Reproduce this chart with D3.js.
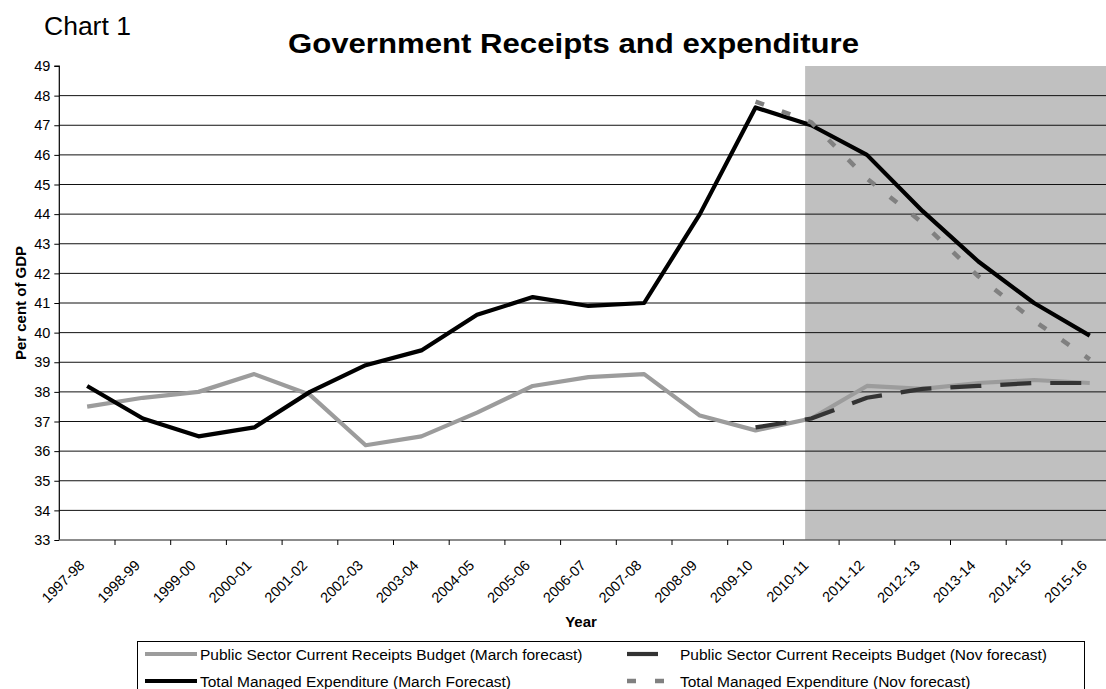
<!DOCTYPE html>
<html>
<head>
<meta charset="utf-8">
<script src="https://cdn.jsdelivr.net/npm/d3@7"></script>
<style>
  html, body { margin: 0; padding: 0; background: #ffffff; }
  svg { display: block; font-family: Arial, "Liberation Sans", sans-serif; }
</style>
</head>
<body>
<svg id="chart" width="1106" height="689"></svg>
<script>
// ---- data ----
const categories = ["1997-98","1998-99","1999-00","2000-01","2001-02","2002-03","2003-04","2004-05","2005-06","2006-07","2007-08","2008-09","2009-10","2010-11","2011-12","2012-13","2013-14","2014-15","2015-16"];
const receiptsMarch = [37.5,37.8,38.0,38.6,37.9,36.2,36.5,37.3,38.2,38.5,38.6,37.2,36.7,37.1,38.2,38.1,38.3,38.4,38.3];
const receiptsNov   = [null,null,null,null,null,null,null,null,null,null,null,null,36.8,37.1,37.8,38.1,38.2,38.3,38.3];
const tmeMarch      = [38.2,37.1,36.5,36.8,38.0,38.9,39.4,40.6,41.2,40.9,41.0,44.0,47.6,47.0,46.0,44.1,42.4,41.0,39.9];
const tmeNov        = [null,null,null,null,null,null,null,null,null,null,null,null,47.8,47.1,45.2,43.7,41.9,40.4,39.1];
const yTicks = [33,34,35,36,37,38,39,40,41,42,43,44,45,46,47,48,49];
const forecastStart = "2010-11";
const seriesNames = [
  "Public Sector Current Receipts Budget (March forecast)",
  "Public Sector Current Receipts Budget (Nov forecast)",
  "Total Managed Expenditure (March Forecast)",
  "Total Managed Expenditure (Nov forecast)"
];
const titleText = "Government Receipts and expenditure";
const chartLabel = "Chart 1";
const xTitle = "Year";
const yTitle = "Per cent of GDP";

(function () {
// ---- styles ----
const styles = [
  { color: "#9c9c9c", width: 4.2, dash: null },
  { color: "#333333", width: 4.2, dash: "31,19" },
  { color: "#000000", width: 4.2, dash: null },
  { color: "#808080", width: 4.5, dash: "9,19" }
];
const series = [receiptsMarch, receiptsNov, tmeMarch, tmeNov];

const svg = d3.select("#chart");
const pLeft = 59.3, pTop = 66, pBottom = 540, band = 55.7;

const x = d3.scaleBand().domain(categories).range([pLeft, pLeft + band * categories.length]).paddingInner(0).paddingOuter(0);
const y = d3.scaleLinear().domain([33, 49]).range([pBottom, pTop]);
const cx = c => x(c) + x.bandwidth() / 2;

svg.append("rect").attr("width", 1106).attr("height", 689).attr("fill", "#ffffff");

// shaded forecast region
const shadeX = x(forecastStart) + x.bandwidth() * 0.39;
svg.append("rect")
  .attr("x", shadeX).attr("y", y(49))
  .attr("width", x.range()[1] - shadeX).attr("height", y(33) - y(49))
  .attr("fill", "#c0c0c0");

// gridlines
svg.append("g").selectAll("line").data(yTicks.filter(t => t > 33 && t < 49)).join("line")
  .attr("x1", pLeft).attr("x2", x.range()[1])
  .attr("y1", d => y(d)).attr("y2", d => y(d))
  .attr("stroke", "#111").attr("stroke-width", 1);

// y axis
const yAxis = d3.axisLeft(y).tickValues(yTicks).tickSize(5).tickPadding(4).tickFormat(d3.format("d"));
const gy = svg.append("g").attr("transform", `translate(${pLeft},0)`).call(yAxis);
gy.select(".domain").attr("stroke", "#000").attr("stroke-width", 1.2).attr("d", `M-5,${pTop}H0V${pBottom}`);
gy.selectAll(".tick line").attr("stroke", "#000");
gy.selectAll(".tick text").attr("font-size", "14.5px").attr("fill", "#000").attr("font-family", "Arial, 'Liberation Sans', sans-serif");

// x axis
const xAxis = d3.axisBottom(x).tickSize(0).tickFormat("");
const gx = svg.append("g").attr("transform", `translate(0,${pBottom})`).call(xAxis);
gx.select(".domain").attr("stroke", "#666").attr("stroke-width", 1.6).attr("d", `M${pLeft},0H${x.range()[1]}`);
gx.selectAll(".tick").remove();
gx.append("g").selectAll("line").data(categories.slice(1)).join("line")
  .attr("x1", d => x(d)).attr("x2", d => x(d))
  .attr("y1", 0).attr("y2", 5).attr("stroke", "#000");
gx.append("g").selectAll("text").data(categories).join("text")
  .attr("transform", d => `translate(${cx(d) - 9},19) rotate(-45)`)
  .attr("text-anchor", "end").attr("dy", "0.7em")
  .attr("font-size", "14.5px").attr("fill", "#000")
  .attr("font-family", "Arial, 'Liberation Sans', sans-serif")
  .text(d => d);

// lines
const lineGen = d3.line()
  .defined(d => d.v != null)
  .x(d => cx(d.c)).y(d => y(d.v));
series.forEach((vals, i) => {
  const pts = categories.map((c, j) => ({ c, v: vals[j] }));
  const p = svg.append("path").datum(pts)
    .attr("d", lineGen).attr("fill", "none")
    .attr("stroke", styles[i].color).attr("stroke-width", styles[i].width)
    .attr("stroke-linejoin", "round");
  if (styles[i].dash) p.attr("stroke-dasharray", styles[i].dash);
});

// titles
svg.append("text").attr("x", 44).attr("y", 35).attr("font-size", "26.5px").attr("fill", "#000").text(chartLabel);
svg.append("text").attr("x", 288).attr("y", 53).attr("font-size", "28px").attr("font-weight", "bold")
  .attr("textLength", 571).attr("lengthAdjust", "spacingAndGlyphs").attr("fill", "#000").text(titleText);
svg.append("text").attr("x", 581).attr("y", 627).attr("text-anchor", "middle")
  .attr("font-size", "15px").attr("font-weight", "bold").text(xTitle);
svg.append("text").attr("transform", `translate(26,${(pTop + pBottom) / 2}) rotate(-90)`)
  .attr("text-anchor", "middle").attr("font-size", "15px").attr("font-weight", "bold").text(yTitle);

// legend
const lg = svg.append("g");
lg.append("rect").attr("x", 137.5).attr("y", 641.5).attr("width", 947).attr("height", 70)
  .attr("fill", "#fff").attr("stroke", "#000").attr("stroke-width", 1);
const legendPos = [
  { sx: 145, ex: 197, tx: 200, row: 0 },
  { sx: 627, ex: 659, tx: 680, row: 0 },
  { sx: 145, ex: 197, tx: 200, row: 1 },
  { sx: 627, ex: 664, tx: 680, row: 1 }
];
seriesNames.forEach((name, i) => {
  const lp = legendPos[i];
  const ly = 654 + lp.row * 27;
  const l = lg.append("line").attr("x1", lp.sx).attr("x2", lp.ex).attr("y1", ly).attr("y2", ly)
    .attr("stroke", styles[i].color).attr("stroke-width", styles[i].width);
  if (styles[i].dash) l.attr("stroke-dasharray", styles[i].dash);
  lg.append("text").attr("x", lp.tx).attr("y", ly + 6).attr("font-size", "15.5px").attr("fill", "#000").text(name);
});
})();
</script>
</body>
</html>
